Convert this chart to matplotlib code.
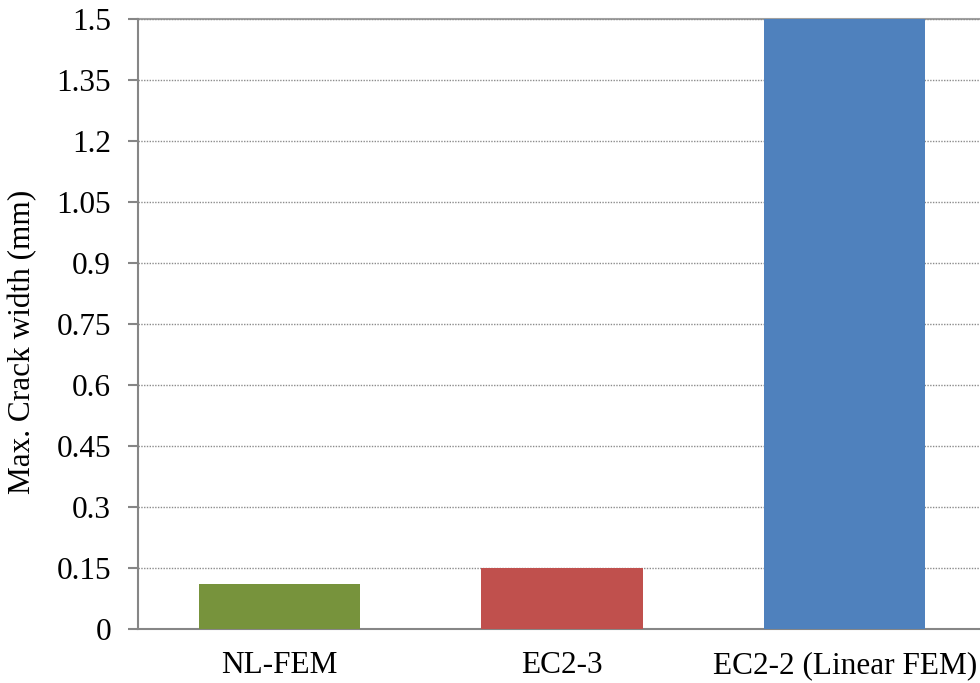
import matplotlib
matplotlib.use("Agg")
from matplotlib import pyplot as plt
import numpy as np

methods = ["NL-FEM", "EC2-3", "EC2-2 (Linear FEM)"]
crack_width = [0.11, 0.15, 1.5]
bar_colors = ["#77933c", "#c0504d", "#4f81bd"]
yticks = [0, 0.15, 0.3, 0.45, 0.6, 0.75, 0.9, 1.05, 1.2, 1.35, 1.5]
ytick_labels = ["0", "0.15", "0.3", "0.45", "0.6", "0.75", "0.9", "1.05", "1.2", "1.35", "1.5"]

plt.rcParams["font.family"] = "Liberation Serif"

fig = plt.figure(figsize=(9.8, 6.83), dpi=100)
# axes runs slightly past the right edge of the figure
ax = fig.add_axes([138 / 980, 1 - 629 / 683, 848 / 980, 610 / 683])

x = np.arange(len(methods))
ax.bar(x, crack_width, width=0.57, color=bar_colors, zorder=3)

ax.set_xlim(-0.5, 2.5)
ax.set_ylim(0, 1.5)
ax.set_yticks(yticks)
ax.set_yticklabels(ytick_labels)
ax.set_xticks(x)
ax.set_xticklabels(methods)
ax.tick_params(axis="y", labelsize=22.5, length=7.5, width=1.5, color="#868686", direction="out", pad=12)
ax.tick_params(axis="x", labelsize=22.5, length=0, pad=16)
ax.set_ylabel("Max. Crack width (mm)", fontsize=22.5)
ax.yaxis.set_label_coords(-0.119, 0.47)

ax.grid(axis="y", linestyle=(0, (1, 1)), color="#8c8c8c", linewidth=1.0, zorder=0)
ax.axhline(1.5, color="#a0a0a0", linewidth=1.5, zorder=1, clip_on=False)

for side in ["top", "right"]:
    ax.spines[side].set_visible(False)
for side in ["left", "bottom"]:
    ax.spines[side].set_color("#868686")
    ax.spines[side].set_linewidth(1.5)

fig.savefig("out.png", dpi=100)
